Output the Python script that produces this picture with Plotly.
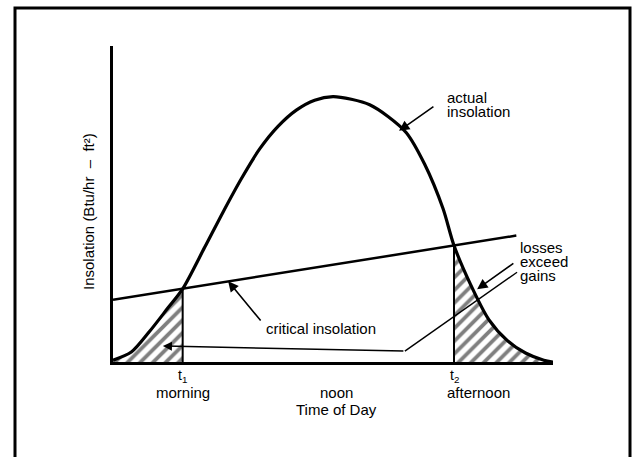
import plotly.graph_objects as go

# Time of day (hours) and insolation on a collector surface
hours = [6.0, 6.5, 7.0, 7.5, 7.9, 8.5, 9.0, 9.5, 10.0, 10.5, 11.0, 11.5, 12.0,
         12.5, 13.0, 13.5, 14.0, 14.5, 15.0, 15.3, 15.75, 16.25, 16.75, 17.25,
         17.75, 18.0]
actual = [2, 11, 34, 60, 81, 127, 166, 203, 236, 261, 279, 290, 294,
          291, 285, 272, 254, 219, 170, 129, 86, 47, 24, 10, 2, 0]

# Critical insolation rises slowly through the day
crit_hours = [6.0, 17.0]
critical = [69, 140]

# Times where actual insolation crosses the critical level
t1, t2 = 7.9, 15.3
i1 = hours.index(t1)
i2 = hours.index(t2)

FONT = "Liberation Sans, Arial, sans-serif"
BLACK = "#000000"

fig = go.Figure()

hatch = dict(shape="/", size=9, solidity=0.42, fgcolor=BLACK, bgcolor="white")

# Hatched loss regions: before t1 and after t2
fig.add_trace(go.Scatter(x=hours[:i1 + 1], y=actual[:i1 + 1], mode="lines",
                         line=dict(width=0, shape="spline"), fill="tozeroy",
                         fillcolor="white", fillpattern=hatch, hoverinfo="skip"))
fig.add_trace(go.Scatter(x=hours[i2:], y=actual[i2:], mode="lines",
                         line=dict(width=0, shape="spline"), fill="tozeroy",
                         fillcolor="white", fillpattern=hatch, hoverinfo="skip"))

# Vertical markers at t1 and t2
for t, i in ((t1, i1), (t2, i2)):
    fig.add_trace(go.Scatter(x=[t, t], y=[-4, actual[i]], mode="lines",
                             line=dict(color=BLACK, width=2), hoverinfo="skip",
                             cliponaxis=False))

# Critical insolation line
fig.add_trace(go.Scatter(x=crit_hours, y=critical, mode="lines",
                         line=dict(color=BLACK, width=2.5), hoverinfo="skip"))

# Actual insolation curve
fig.add_trace(go.Scatter(x=hours, y=actual, mode="lines",
                         line=dict(color=BLACK, width=3.2, shape="spline", smoothing=0.8),
                         hoverinfo="skip"))

W, H = 635, 457
x_dom = [113 / W, 553 / W]
y_dom = [1 - 362 / H, 1 - 46 / H]

fig.update_layout(
    width=W, height=H,
    margin=dict(l=0, r=0, t=0, b=0),
    paper_bgcolor="white", plot_bgcolor="white",
    showlegend=False,
    font=dict(family=FONT, size=15, color=BLACK),
    xaxis=dict(domain=x_dom, range=[6, 18], showgrid=False, zeroline=False,
               showline=True, linecolor=BLACK, linewidth=2.5,
               showticklabels=False, ticks=""),
    yaxis=dict(domain=y_dom, range=[0, 350], showgrid=False, zeroline=False,
               showline=True, linecolor=BLACK, linewidth=2.5,
               showticklabels=False, ticks=""),
)

# Outer frame
fig.add_shape(type="rect", xref="paper", yref="paper",
              x0=15 / W, x1=630 / W, y0=-0.05, y1=1 - 8 / H,
              line=dict(color=BLACK, width=3), layer="below")


def label(text, x, ypx, xref="x", **kw):
    d = dict(text=text, x=x, y=1 - ypx / H, xref=xref, yref="paper",
             showarrow=False, xanchor="center", yanchor="middle")
    d.update(kw)
    return d


ann = []
# Axis labels
ann.append(label("t<sub>1</sub>", t1, 376, font=dict(size=14)))
ann.append(label("t<sub>2</sub>", t2, 376, font=dict(size=14)))
ann.append(label("morning", t1, 392))
ann.append(label("noon", 12.1, 392))
ann.append(label("afternoon", t2 - 0.25, 392, xanchor="left"))
ann.append(label("Time of Day", 12.1, 409))
ann.append(label("Insolation (Btu/hr  \u2013  ft\u00b2)", 88 / W, 212, xref="paper",
                 textangle=-90))

# Callout texts, one line each
for txt, ypx in (("actual", 98), ("insolation", 112)):
    ann.append(label(txt, 15.05, ypx, xanchor="left"))
ann.append(label("critical insolation", 10.12, 328, xanchor="left"))
for txt, ypx in (("losses", 247), ("exceed", 261), ("gains", 275)):
    ann.append(label(txt, 17.05, ypx, xanchor="left"))

# Callout arrows
arrow = dict(text="", xref="x", yref="y", axref="x", ayref="y", showarrow=True,
             arrowhead=2, arrowsize=1.3, arrowcolor=BLACK)
ann.append(dict(arrow, x=13.8, y=256, ax=14.78, ay=284, arrowwidth=1.6))
ann.append(dict(arrow, x=9.14, y=89.4, ax=10.06, ay=44.2, arrowwidth=1.6))
ann.append(dict(arrow, x=15.93, y=80.6, ax=16.96, ay=110.4, arrowwidth=1.6))
ann.append(dict(arrow, x=7.36, y=17.7, ax=13.96, ay=12.1, arrowwidth=1.4))
fig.update_layout(annotations=ann)

fig.add_shape(type="line", xref="x", yref="y", x0=17.02, y0=99.4, x1=13.96, y1=12.1,
              line=dict(color=BLACK, width=1.4))

fig.write_html("out.html")
